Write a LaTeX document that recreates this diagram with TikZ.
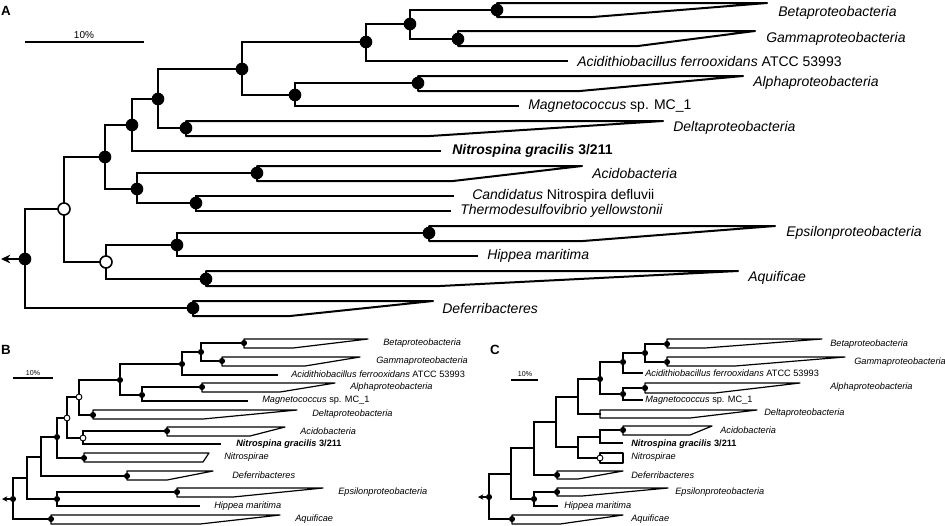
\documentclass[tikz,border=0pt]{standalone}
\usepackage{fontspec}
\setmainfont{Liberation Sans}
\usetikzlibrary{arrows.meta}

\tikzset{
  treeA/.style={line width=1.5pt, line cap=rect},
  treeS/.style={line width=0.9pt, line cap=rect},
  dotA/.style={circle, fill=black, inner sep=0pt, minimum size=9.5pt},
  openA/.style={circle, draw=black, fill=white, line width=1.2pt, inner sep=0pt, minimum size=9pt},
  dotS/.style={circle, fill=black, inner sep=0pt, minimum size=4.6pt},
  openS/.style={circle, draw=black, fill=white, line width=0.7pt, inner sep=0pt, minimum size=4.4pt},
  taxA/.style={anchor=west, inner sep=0pt, font=\fontsize{10.5}{12}\selectfont\itshape},
  taxS/.style={anchor=west, inner sep=0pt, font=\fontsize{6.9}{8}\selectfont\itshape},
  panel/.style={font=\fontsize{10}{12}\selectfont\bfseries},
  grp/.style={fill=white, line join=round},
}
% collapsed group: x0, ytop, ybottom, xshort, xlong
\newcommand{\clade}[5]{\draw[grp] (#1,#2) -- (#5,#2) -- (#4,#3) -- (#1,#3) -- cycle;}

\begin{document}
\begin{tikzpicture}[x=0.75pt, y=-0.75pt]
\useasboundingbox (0,0) rectangle (945,525);

% ================= A =================
\node[panel] (lblA) at (6,11) {A};
\node[font=\fontsize{7.5}{9}\selectfont] (sbA) at (84,35) {10\%};
\coordinate (sbA1) at (25,42);
\coordinate (sbA2) at (144,42);
\draw[line width=1pt] (sbA1) -- (sbA2);

\begin{scope}[treeA]
  % groups
  \clade{497}{3}{17}{593}{767}
  \clade{458}{31}{46}{638}{755}
  \clade{418}{76}{91}{580}{743}
  \clade{186}{121}{136}{430}{663}
  \clade{257}{166}{181}{453}{582}
  \clade{429}{226}{241}{583}{775}
  \clade{206}{271}{286}{440}{738}
  \clade{193}{301}{316}{290}{433}
  % inner nodes
  \node[dotA]  (rA)  at (25,259) {};
  \node[openA] (a1)  at (64,209) {};
  \node[dotA]  (a2)  at (105,157) {};
  \node[dotA]  (a3)  at (132,125) {};
  \node[dotA]  (a4)  at (158,99) {};
  \node[dotA]  (a5)  at (242,69) {};
  \node[dotA]  (a6)  at (366,42) {};
  \node[dotA]  (a7)  at (410,24) {};
  \node[dotA]  (a8)  at (295,95) {};
  \node[dotA]  (a9)  at (137,189) {};
  \node[dotA]  (a10) at (196,203) {};
  \node[openA] (a11) at (106,262) {};
  \node[dotA]  (a12) at (177,245) {};
  % group nodes
  \node[dotA] (betaA)  at (497,10) {};
  \node[dotA] (gammaA) at (458,39) {};
  \node[dotA] (alphaA) at (418,83) {};
  \node[dotA] (deltaA) at (186,128) {};
  \node[dotA] (acidoA) at (257,173) {};
  \node[dotA] (epsA)   at (429,233) {};
  \node[dotA] (aquiA)  at (206,279) {};
  \node[dotA] (deferA) at (193,308) {};
  % leaf ends
  \coordinate (acidiA) at (567,61);
  \coordinate (magnA)  at (518,106);
  \coordinate (nitA)   at (440,151);
  \coordinate (candA)  at (453,196);
  \coordinate (thermA) at (450,211);
  \coordinate (hippA)  at (477,256);
  \coordinate (outA)   at (1,259);
  % branches
  \draw[-{Stealth[length=7pt,width=6.5pt]}] (rA) -- (outA);
  \draw (rA) |- (a1);   \draw (rA) |- (deferA);
  \draw (a1) |- (a2);   \draw (a1) |- (a11);
  \draw (a2) |- (a3);   \draw (a2) |- (a9);
  \draw (a3) |- (a4);   \draw (a3) |- (nitA);
  \draw (a4) |- (a5);   \draw (a4) |- (deltaA);
  \draw (a5) |- (a6);   \draw (a5) |- (a8);
  \draw (a6) |- (a7);   \draw (a6) |- (acidiA);
  \draw (a7) |- (betaA); \draw (a7) |- (gammaA);
  \draw (a8) |- (alphaA); \draw (a8) |- (magnA);
  \draw (a9) |- (acidoA); \draw (a9) |- (a10);
  \draw (a10) |- (candA); \draw (a10) |- (thermA);
  \draw (a11) |- (a12); \draw (a11) |- (aquiA);
  \draw (a12) |- (epsA); \draw (a12) |- (hippA);
\end{scope}

% labels A
\node[taxA] (tBetaA)  at (778,13)  {Betaproteobacteria};
\node[taxA] (tGammaA) at (766,39)  {Gammaproteobacteria};
\node[taxA] (tAcidiA) at (577,61)  {Acidithiobacillus ferrooxidans \textup{ATCC 53993}};
\node[taxA] (tAlphaA) at (753,83)  {Alphaproteobacteria};
\node[taxA] (tMagnA)  at (528,106) {Magnetococcus \textup{sp. MC\_1}};
\node[taxA] (tDeltaA) at (673,128) {Deltaproteobacteria};
\node[taxA] (tNitA)   at (452,151) {\bfseries Nitrospina gracilis \textup{3/211}};
\node[taxA] (tAcidoA) at (592,173) {Acidobacteria};
\node[taxA] (tCandA)  at (472,196) {Candidatus \textup{Nitrospira defluvii}};
\node[taxA] (tThermA) at (460,211) {Thermodesulfovibrio yellowstonii};
\node[taxA] (tEpsA)   at (786,233) {Epsilonproteobacteria};
\node[taxA] (tHippA)  at (487,256) {Hippea maritima};
\node[taxA] (tAquiA)  at (748,278) {Aquificae};
\node[taxA] (tDeferA) at (442,308) {Deferribacteres};

% ================= B =================
\node[panel] (lblB) at (6,350) {B};
\node[font=\fontsize{5.3}{6}\selectfont] (sbB) at (33,373) {10\%};
\coordinate (sbB1) at (13,378);
\coordinate (sbB2) at (53,378);
\draw[line width=0.8pt] (sbB1) -- (sbB2);

\begin{scope}[treeS]
  \clade{244}{339}{348}{293}{368}
  \clade{222}{357}{366}{305}{360}
  \clade{202}{383}{392}{280}{335}
  \clade{93}{410}{419}{203}{297}
  \clade{167}{427}{436}{250}{285}
  \draw[grp] (84,453) -- (209,453) -- (203,462) -- (84,462) -- cycle;
  \clade{127}{471}{480}{167}{213}
  \clade{177}{488}{497}{233}{323}
  \clade{51}{515}{524}{200}{280}
  \node[dotS]  (rB)  at (13,499) {};
  \coordinate  (b1)  at (27,478);
  \coordinate  (b2)  at (41,457);
  \node[dotS]  (b3)  at (57,437) {};
  \node[openS] (b4)  at (67,418) {};
  \node[openS] (b5)  at (79,397) {};
  \node[openS] (b6)  at (83,438) {};
  \node[dotS]  (b7)  at (120,380) {};
  \node[dotS]  (b8)  at (182,364) {};
  \node[dotS]  (b9)  at (201,352) {};
  \node[dotS]  (b10) at (142,395) {};
  \node[dotS]  (b11) at (57,499) {};
  \node[dotS] (betaB)  at (244,343) {};
  \node[dotS] (gammaB) at (222,361) {};
  \node[dotS] (alphaB) at (202,387) {};
  \node[dotS] (deltaB) at (93,415) {};
  \node[dotS] (acidoB) at (167,431) {};
  \node[dotS] (nspB)   at (84,458) {};
  \node[dotS] (deferB) at (127,476) {};
  \node[dotS] (epsB)   at (177,492) {};
  \node[dotS] (aquiB)  at (51,519) {};
  \coordinate (acidiB) at (277,375);
  \coordinate (magnB)  at (247,401);
  \coordinate (nitB)   at (220,444);
  \coordinate (hippB)  at (199,506);
  \coordinate (outB)   at (2,499);
  \draw[-{Stealth[length=4pt,width=4pt]}] (rB) -- (outB);
  \draw (rB) |- (b1);   \draw (rB) |- (aquiB);
  \draw (b1) |- (b2);   \draw (b1) |- (b11);
  \draw (b2) |- (b3);   \draw (b2) |- (deferB);
  \draw (b3) |- (b4);   \draw (b3) |- (nspB);
  \draw (b4) |- (b5);   \draw (b4) |- (b6);
  \draw (b5) |- (b7);   \draw (b5) |- (deltaB);
  \draw (b6) |- (acidoB); \draw (b6) |- (nitB);
  \draw (b7) |- (b8);   \draw (b7) |- (b10);
  \draw (b8) |- (b9);   \draw (b8) |- (acidiB);
  \draw (b9) |- (betaB); \draw (b9) |- (gammaB);
  \draw (b10) |- (alphaB); \draw (b10) |- (magnB);
  \draw (b11) |- (epsB); \draw (b11) |- (hippB);
\end{scope}

\node[taxS] (tBetaB)  at (383,343) {Betaproteobacteria};
\node[taxS] (tGammaB) at (376,361) {Gammaproteobacteria};
\node[taxS] (tAcidiB) at (291,374) {Acidithiobacillus ferrooxidans \textup{ATCC 53993}};
\node[taxS] (tAlphaB) at (350,387) {Alphaproteobacteria};
\node[taxS] (tMagnB)  at (262,400) {Magnetococcus \textup{sp. MC\_1}};
\node[taxS] (tDeltaB) at (312,414) {Deltaproteobacteria};
\node[taxS] (tAcidoB) at (300,431) {Acidobacteria};
\node[taxS] (tNitB)   at (236,444) {\bfseries Nitrospina gracilis \textup{3/211}};
\node[taxS] (tNspB)   at (224,457) {Nitrospirae};
\node[taxS] (tDeferB) at (232,475) {Deferribacteres};
\node[taxS] (tEpsB)   at (338,492) {Epsilonproteobacteria};
\node[taxS] (tHippB)  at (214,506) {Hippea maritima};
\node[taxS] (tAquiB)  at (295,519) {Aquificae};

% ================= C =================
\node[panel] (lblC) at (495,350) {C};
\node[font=\fontsize{5.3}{6}\selectfont] (sbC) at (525,374) {10\%};
\coordinate (sbC1) at (511,380);
\coordinate (sbC2) at (538,380);
\draw[line width=0.8pt] (sbC1) -- (sbC2);

\begin{scope}[treeS]
  \clade{667}{339}{348}{705}{822}
  \clade{667}{357}{366}{735}{845}
  \clade{645}{383}{393}{715}{800}
  \clade{600}{410}{418}{690}{757}
  \clade{623}{426}{435}{690}{712}
  \draw[grp] (600,453) rectangle (623,463);
  \clade{557}{471}{479}{578}{623}
  \clade{557}{488}{496}{582}{668}
  \clade{512}{515}{524}{560}{623}
  \node[dotS]  (rC)  at (489,497) {};
  \coordinate  (c1)  at (511,474);
  \coordinate  (c2)  at (534,448);
  \coordinate  (c3)  at (556,422);
  \coordinate  (c4)  at (578,397);
  \node[dotS]  (c5)  at (600,379) {};
  \node[dotS]  (c6)  at (623,362) {};
  \node[dotS]  (c7)  at (645,353) {};
  \node[dotS]  (c8)  at (623,394) {};
  \coordinate  (c9)  at (578,447);
  \coordinate  (c10) at (600,437);
  \node[dotS]  (c11) at (534,499) {};
  \node[dotS] (betaC)  at (667,344) {};
  \node[dotS] (gammaC) at (667,362) {};
  \node[dotS] (alphaC) at (645,388) {};
  \coordinate (deltaC) at (600,414);
  \node[dotS] (acidoC) at (623,430) {};
  \node[openS] (nspC)  at (600,458) {};
  \node[dotS] (deferC) at (557,475) {};
  \node[dotS] (epsC)   at (557,492) {};
  \node[dotS] (aquiC)  at (512,519) {};
  \coordinate (acidiC) at (642,373);
  \coordinate (magnC)  at (642,400);
  \coordinate (nitC)   at (622,443);
  \coordinate (hippC)  at (557,506);
  \coordinate (outC)   at (478,497);
  \draw[-{Stealth[length=4pt,width=4pt]}] (rC) -- (outC);
  \draw (rC) |- (c1);   \draw (rC) |- (aquiC);
  \draw (c1) |- (c2);   \draw (c1) |- (c11);
  \draw (c2) |- (c3);   \draw (c2) |- (deferC);
  \draw (c3) |- (c4);   \draw (c3) |- (c9);
  \draw (c4) |- (c5);   \draw (c4) |- (deltaC);
  \draw (c5) |- (c6);   \draw (c5) |- (c8);
  \draw (c6) |- (c7);   \draw (c6) |- (acidiC);
  \draw (c7) |- (betaC); \draw (c7) |- (gammaC);
  \draw (c8) |- (alphaC); \draw (c8) |- (magnC);
  \draw (c9) |- (c10);  \draw (c9) |- (nspC);
  \draw (c10) |- (acidoC); \draw (c10) |- (nitC);
  \draw (c11) |- (epsC); \draw (c11) |- (hippC);
\end{scope}

\node[taxS] (tBetaC)  at (830,344) {Betaproteobacteria};
\node[taxS] (tGammaC) at (854,362) {Gammaproteobacteria};
\node[taxS] (tAcidiC) at (645,373) {Acidithiobacillus ferrooxidans \textup{ATCC 53993}};
\node[taxS] (tAlphaC) at (830,387) {Alphaproteobacteria};
\node[taxS] (tMagnC)  at (645,400) {Magnetococcus \textup{sp. MC\_1}};
\node[taxS] (tDeltaC) at (764,413) {Deltaproteobacteria};
\node[taxS] (tAcidoC) at (720,430) {Acidobacteria};
\node[taxS] (tNitC)   at (631,444) {\bfseries Nitrospina gracilis \textup{3/211}};
\node[taxS] (tNspC)   at (631,457) {Nitrospirae};
\node[taxS] (tDeferC) at (631,475) {Deferribacteres};
\node[taxS] (tEpsC)   at (675,492) {Epsilonproteobacteria};
\node[taxS] (tHippC)  at (564,506) {Hippea maritima};
\node[taxS] (tAquiC)  at (631,519) {Aquificae};
\end{tikzpicture}
\end{document}
